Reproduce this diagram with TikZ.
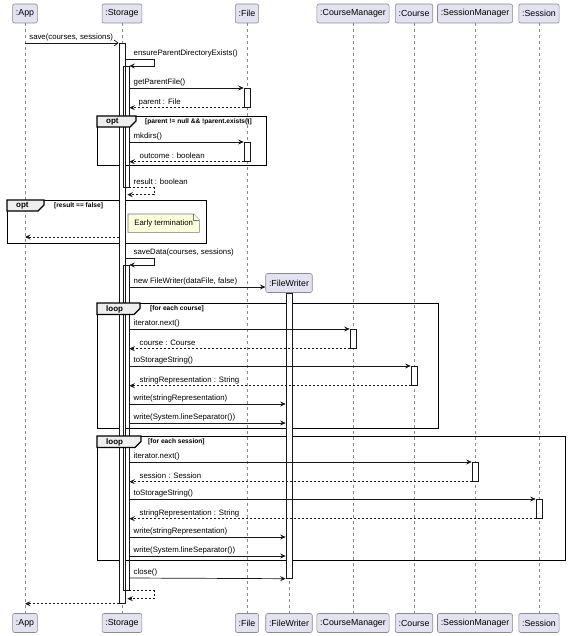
\documentclass[tikz,border=0pt]{standalone}
\usepackage{fontspec}
\setmainfont{Liberation Sans}
\usetikzlibrary{arrows.meta,positioning,calc,backgrounds}
\definecolor{umlline}{HTML}{181818}
\definecolor{umlpart}{HTML}{E2E2F0}
\definecolor{umltab}{HTML}{EEEEEE}
\definecolor{umlnote}{HTML}{FEFFDD}
\tikzset{
  part/.style={
    rectangle,
    rounded corners=2pt,
    draw=umlline!50,
    fill=umlpart,
    line width=0.6pt,
    minimum height=19pt,
    inner xsep=3.3pt,
    inner ysep=0pt,
    font=\fontsize{8.8}{10}\selectfont
  },
  lifeline/.style={draw=umlline!50, line width=0.5pt, dash pattern=on 3pt off 3pt},
  bar/.style={
    rectangle,
    draw=umlline,
    fill=white,
    line width=0.7pt,
    minimum width=6pt,
    inner sep=0pt,
    anchor=north
  },
  nestbar/.style={bar, fill=none},
  call/.style={draw=umlline, line width=0.7pt, -{Stealth[length=5.5pt,width=5pt,inset=2pt]}},
  async/.style={draw=umlline, line width=0.7pt, -{Straight Barb[length=4pt,width=6pt]}},
  reply/.style={call, dash pattern=on 2pt off 2pt},
  msg/.style={inner sep=0pt, anchor=base west, yshift=3.5pt, font=\fontsize{7.8}{9}\selectfont},
  frame/.style={rectangle, draw=black, line width=1.2pt, inner sep=0pt, anchor=north west},
  tab/.style={draw=black, line width=1.2pt, fill=umltab},
  tabtext/.style={inner sep=0pt, anchor=west, font=\bfseries\fontsize{8}{9}\selectfont},
  guard/.style={inner sep=0pt, anchor=west, font=\bfseries\fontsize{6.6}{8}\selectfont},
  notetext/.style={inner xsep=5pt, inner ysep=0pt, minimum height=18pt, anchor=north west, font=\fontsize{7.8}{9}\selectfont},
  note/.style={draw=umlline!60, fill=umlnote, line width=0.6pt}
}

\begin{document}
\begin{tikzpicture}[x=1pt, y=-1pt]
  \useasboundingbox (0,0) rectangle (568,636);

  % participants
  \node[part] (app) at (25,13.5) {:App};
  \node[part] (stor) at (122,13.5) {:Storage};
  \node[part] (file) at (247,13.5) {:File};
  \node[part] (cmgr) at (353,13.5) {:CourseManager};
  \node[part] (crs) at (414,13.5) {:Course};
  \node[part] (smgr) at (475,13.5) {:SessionManager};
  \node[part] (sess) at (539,13.5) {:Session};
  \node[part] (fwtop) at (289,283) {:FileWriter};

  \node[part] (appB) at (25,623) {:App};
  \node[part] (storB) at (122,623) {:Storage};
  \node[part] (fileB) at (247,623) {:File};
  \node[part] (fwB) at (289,623) {:FileWriter};
  \node[part] (cmgrB) at (353,623) {:CourseManager};
  \node[part] (crsB) at (414,623) {:Course};
  \node[part] (smgrB) at (475,623) {:SessionManager};
  \node[part] (sessB) at (539,623) {:Session};

  \draw[lifeline] (app) -- (appB);
  \draw[lifeline] (stor) -- (storB);
  \draw[lifeline] (file) -- (fileB);
  \draw[lifeline] (fwtop) -- (fwB);
  \draw[lifeline] (cmgr) -- (cmgrB);
  \draw[lifeline] (crs) -- (crsB);
  \draw[lifeline] (smgr) -- (smgrB);
  \draw[lifeline] (sess) -- (sessB);

  % fragments
  \node[frame, minimum width=169pt, minimum height=49pt] (opt1) at (97,116) {};
  \node[frame, minimum width=199pt, minimum height=43pt] (opt2) at (7,200) {};
  \node[frame, minimum width=341pt, minimum height=125pt] (loop1) at (97,303) {};
  \node[frame, minimum width=468pt, minimum height=124pt] (loop2) at (97,436) {};

  % activations
  \node[bar, minimum height=560pt] (s1) at (122,43) {};
  \node[nestbar, minimum height=121pt] (s2) at (126,66) {};
  \node[nestbar, minimum height=325pt] (s3) at (126,265) {};
  \node[bar, minimum height=19pt] (f1) at (247,88) {};
  \node[bar, minimum height=19pt] (f2) at (247,142) {};
  \node[bar, minimum height=285pt] (fw) at (289,293) {};
  \node[bar, minimum height=19pt] (cm1) at (353,329) {};
  \node[bar, minimum height=19pt] (c1) at (414,366) {};
  \node[bar, minimum height=19pt] (sm1) at (475,462) {};
  \node[bar, minimum height=19pt] (se1) at (539,499) {};

  % fragment tabs
  \draw[tab] (opt1.north west) -- ++(39,0) -- ++(0,5) -- ++(-6,6) -- ++(-33,0) -- cycle;
  \node[tabtext] (opt1t) at ([xshift=9pt,yshift=-5.5pt]opt1.north west) {opt};
  \node[guard] (opt1g) at ([xshift=48pt,yshift=-5.5pt]opt1.north west) {[parent != null \&\& !parent.exists()]};
  \draw[tab] (opt2.north west) -- ++(37,0) -- ++(0,5) -- ++(-6,6) -- ++(-31,0) -- cycle;
  \node[tabtext] (opt2t) at ([xshift=9pt,yshift=-5.5pt]opt2.north west) {opt};
  \node[guard] (opt2g) at ([xshift=47pt,yshift=-5.5pt]opt2.north west) {[result == false]};
  \draw[tab] (loop1.north west) -- ++(43,0) -- ++(0,5.5) -- ++(-6,6) -- ++(-37,0) -- cycle;
  \node[tabtext] (loop1t) at ([xshift=9pt,yshift=-6pt]loop1.north west) {loop};
  \node[guard] (loop1g) at ([xshift=53pt,yshift=-6pt]loop1.north west) {[for each course]};
  \draw[tab] (loop2.north west) -- ++(44,0) -- ++(0,5.5) -- ++(-6,6) -- ++(-38,0) -- cycle;
  \node[tabtext] (loop2t) at ([xshift=9pt,yshift=-6pt]loop2.north west) {loop};
  \node[guard] (loop2g) at ([xshift=51pt,yshift=-6pt]loop2.north west) {[for each session]};

  \coordinate (ens) at (0,59);
  \coordinate (sav) at (0,258);
  \coordinate (nfw) at (0,287);
  \coordinate (w1) at (0,404);
  \coordinate (w2) at (0,423);
  \coordinate (w3) at (0,537);
  \coordinate (w4) at (0,556);
  \coordinate (cls) at (0,578);
  \coordinate (early) at (0,237);

  % messages
  \draw[async] (app |- s1.north) -- node[msg, pos=0, xshift=4pt] (m1) {save(courses, sessions)} (s1.north west);
  \draw[call] (s1.east |- ens) -- node[msg, pos=0, xshift=8pt] (m2) {ensureParentDirectoryExists()} ++(29,0) -- ++(0,7) -- (s2.north east);
  \draw[call] (s2.east |- f1.north) -- node[msg, pos=0, xshift=4pt] (m3) {getParentFile()} (f1.north west);
  \draw[reply] (f1.south west) -- node[msg, pos=1, xshift=9pt] (m4) {parent : File} (s2.east |- f1.south);
  \draw[call] (s2.east |- f2.north) -- node[msg, pos=0, xshift=4pt] (m5) {mkdirs()} (f2.north west);
  \draw[reply] (f2.south west) -- node[msg, pos=1, xshift=10pt] (m6) {outcome : boolean} (s2.east |- f2.south);
  \draw[reply] (s2.south east) -- node[msg, pos=0, xshift=4pt] (m7) {result : boolean} ++(25,0) -- ++(0,7) -- ++(-27,0);

  \node[notetext, minimum width=71pt] (nt) at (128,214) {Early termination};
  \begin{scope}[on background layer]
    \draw[note] (nt.north west) -- ([xshift=-6pt]nt.north east) -- ([yshift=-6pt]nt.north east) -- (nt.south east) -- (nt.south west) -- cycle;
    \draw[note] ([xshift=-6pt]nt.north east) -- ([xshift=-6pt,yshift=-6pt]nt.north east) -- ([yshift=-6pt]nt.north east);
  \end{scope}
  \draw[reply] (s1.west |- early) -- (app |- early);

  \draw[call] (s1.east |- sav) -- node[msg, pos=0, xshift=8pt] (m8) {saveData(courses, sessions)} ++(29,0) -- ++(0,7) -- (s3.north east);
  \draw[call] (s3.east |- nfw) -- node[msg, pos=0, xshift=4pt] (m9) {new FileWriter(dataFile, false)} (fwtop.west |- nfw);

  \draw[call] (s3.east |- cm1.north) -- node[msg, pos=0, xshift=4pt] (m10) {iterator.next()} (cm1.north west);
  \draw[reply] (cm1.south west) -- node[msg, pos=1, xshift=10pt] (m11) {course : Course} (s3.east |- cm1.south);
  \draw[call] (s3.east |- c1.north) -- node[msg, pos=0, xshift=4pt] (m12) {toStorageString()} (c1.north west);
  \draw[reply] (c1.south west) -- node[msg, pos=1, xshift=10pt] (m13) {stringRepresentation : String} (s3.east |- c1.south);
  \draw[call] (s3.east |- w1) -- node[msg, pos=0, xshift=4pt] (m14) {write(stringRepresentation)} (fw.west |- w1);
  \draw[call] (s3.east |- w2) -- node[msg, pos=0, xshift=4pt] (m15) {write(System.lineSeparator())} (fw.west |- w2);

  \draw[call] (s3.east |- sm1.north) -- node[msg, pos=0, xshift=4pt] (m16) {iterator.next()} (sm1.north west);
  \draw[reply] (sm1.south west) -- node[msg, pos=1, xshift=10pt] (m17) {session : Session} (s3.east |- sm1.south);
  \draw[call] (s3.east |- se1.north) -- node[msg, pos=0, xshift=4pt] (m18) {toStorageString()} (se1.north west);
  \draw[reply] (se1.south west) -- node[msg, pos=1, xshift=10pt] (m19) {stringRepresentation : String} (s3.east |- se1.south);
  \draw[call] (s3.east |- w3) -- node[msg, pos=0, xshift=4pt] (m20) {write(stringRepresentation)} (fw.west |- w3);
  \draw[call] (s3.east |- w4) -- node[msg, pos=0, xshift=4pt] (m21) {write(System.lineSeparator())} (fw.west |- w4);
  \draw[call] (s3.east |- cls) -- node[msg, pos=0, xshift=4pt] (m22) {close()} (fw.south west);

  \draw[reply] (s3.south east) -- ++(25,0) -- ++(0,8) -- ++(-27,0);
  \draw[reply] (s1.south west) -- (app |- s1.south);
\end{tikzpicture}
\end{document}
